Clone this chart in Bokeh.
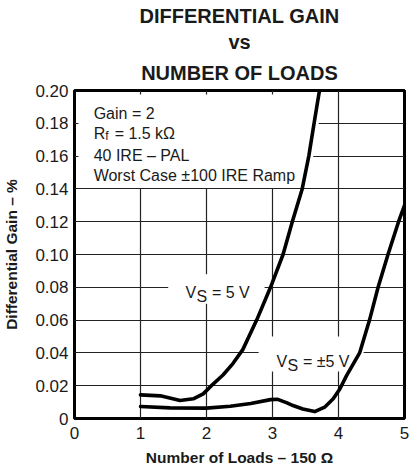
import numpy as np
from bokeh.plotting import figure
from bokeh.models import FixedTicker, Label, Range1d, Title, NumeralTickFormatter
from bokeh.embed import file_html
from bokeh.resources import INLINE

# ---- data ----
x_vs5 = [1.0, 1.3, 1.6, 1.8, 1.95, 2.1, 2.25, 2.4, 2.55, 2.76, 2.97, 3.16, 3.30, 3.45, 3.55, 3.63, 3.72]
y_vs5 = [0.0144, 0.0138, 0.0110, 0.0120, 0.0150, 0.0210, 0.0265, 0.0335, 0.0420, 0.060, 0.080, 0.100,
         0.120, 0.140, 0.160, 0.180, 0.202]

x_vspm5 = [1.0, 1.45, 2.0, 2.36, 2.67, 2.97, 3.08, 3.22, 3.31, 3.46, 3.64, 3.79, 3.92, 4.02, 4.12,
           4.32, 4.47, 4.60, 4.75, 4.91, 5.0]
y_vspm5 = [0.0073, 0.0065, 0.0063, 0.0075, 0.0092, 0.0115, 0.0117, 0.0095, 0.0079, 0.0058, 0.0042,
           0.0069, 0.0120, 0.0180, 0.0260, 0.040, 0.060, 0.080, 0.100, 0.120, 0.130]

x_ticks = [0, 1, 2, 3, 4, 5]
x_tick_labels = ["0", "1", "2", "3", "4", "5"]
y_ticks = [0, 0.02, 0.04, 0.06, 0.08, 0.10, 0.12, 0.14, 0.16, 0.18, 0.20]
y_tick_labels = ["0", "0.02", "0.04", "0.06", "0.08", "0.10", "0.12", "0.14", "0.16", "0.18", "0.20"]

title_lines = ["DIFFERENTIAL GAIN", "vs", "NUMBER OF LOADS"]
x_label = "Number of Loads \u2013 150 \u03a9"
y_label = "Differential Gain \u2013 %"
cond_lines = ["Gain = 2", "R", "f", "= 1.5 k\u03a9", "40 IRE \u2013 PAL", "Worst Case \u00b1100 IRE Ramp"]

FONT = "Liberation Sans"
INK = "#1a1a1a"

p = figure(frame_width=330, frame_height=328,
           x_range=Range1d(0, 5), y_range=Range1d(0, 0.2),
           output_backend="svg", toolbar_location=None, title=None,
           min_border_left=0, min_border_right=5, min_border_top=0, min_border_bottom=0,
           background_fill_color="white", border_fill_color="white")

def make_title(text, standoff):
    return Title(text=text, text_font=FONT, text_font_style="bold", text_font_size="20px",
                 text_color=INK, align="center", standoff=standoff, offset=0)

# index 0 is nearest to the frame
p.above = [make_title(title_lines[2], 14), make_title(title_lines[1], 0), make_title(title_lines[0], 4)]

# outline & grid
p.outline_line_color = "black"
p.outline_line_width = 3
p.xgrid.ticker = FixedTicker(ticks=x_ticks)
p.ygrid.ticker = FixedTicker(ticks=y_ticks)
for g in (p.xgrid, p.ygrid):
    g.grid_line_color = "#222222"
    g.grid_line_width = 1.2

# axes
xa = p.xaxis[0]
ya = p.yaxis[0]
xa.ticker = FixedTicker(ticks=x_ticks)
xa.major_label_overrides = dict(zip(x_ticks, x_tick_labels))
ya.ticker = FixedTicker(ticks=y_ticks)
ya.formatter = NumeralTickFormatter(format="0.00")
ya.major_label_overrides = dict(zip(y_ticks, y_tick_labels))
for ax in (xa, ya):
    ax.axis_line_color = None
    ax.major_tick_in = 0
    ax.major_tick_out = 0
    ax.minor_tick_line_color = None
    ax.major_label_text_font = FONT
    ax.major_label_text_font_size = "17px"
    ax.major_label_text_color = INK
    ax.axis_label_text_font = FONT
    ax.axis_label_text_font_style = "bold"
    ax.axis_label_text_font_size = "15.5px"
    ax.axis_label_text_color = INK
xa.axis_label = x_label
ya.axis_label = y_label
xa.major_label_standoff = 8
xa.axis_label_standoff = 7
ya.major_label_standoff = 6
ya.axis_label_standoff = 12

# white masks behind the annotation texts (hide grid lines, leave short stubs at the border)
mask_top = 0.2 - 0.0024
mask_left = 0.06
mask_ys = list(np.linspace(0.1405, mask_top, 12))
mask_right = list(np.interp(mask_ys, y_vs5, x_vs5) + 0.07)
p.patch([mask_left] + mask_right + [mask_left], [mask_ys[0]] + mask_ys + [mask_top],
        fill_color="white", line_color=None)
p.quad(left=[1.42, 2.79], right=[2.88, 4.38], bottom=[0.070, 0.0287], top=[0.088, 0.050],
       fill_color="white", line_color=None)

# curves
p.line(x_vs5, y_vs5, line_color="black", line_width=3.6, line_join="round", line_cap="round")
p.line(x_vspm5, y_vspm5, line_color="black", line_width=3.6, line_join="round", line_cap="round")

def lab(x, y, text, xo=0, yo=0, size="16px"):
    p.add_layout(Label(x=x, y=y, text=text, x_offset=xo, y_offset=yo,
                       text_font=FONT, text_font_size=size, text_color=INK,
                       text_baseline="alphabetic", text_align="left"))

# condition block
lab(0.29, 0.1858, cond_lines[0])
lab(0.29, 0.1736, cond_lines[1])
lab(0.29, 0.1736, cond_lines[2], xo=11.5, yo=-2, size="12px")
lab(0.29, 0.1736, cond_lines[3], xo=21)
lab(0.29, 0.1604, cond_lines[4])
lab(0.29, 0.1480, cond_lines[5])

# curve labels with subscript S
lab(1.68, 0.0768, "V")
lab(1.68, 0.0768, "S", xo=11, yo=-4)
lab(1.68, 0.0768, "= 5 V", xo=26.5)
lab(3.06, 0.0348, "V")
lab(3.06, 0.0348, "S", xo=11, yo=-4)
lab(3.06, 0.0348, "= \u00b15 V", xo=26.5)

open("out.html", "w").write(file_html(p, INLINE))
